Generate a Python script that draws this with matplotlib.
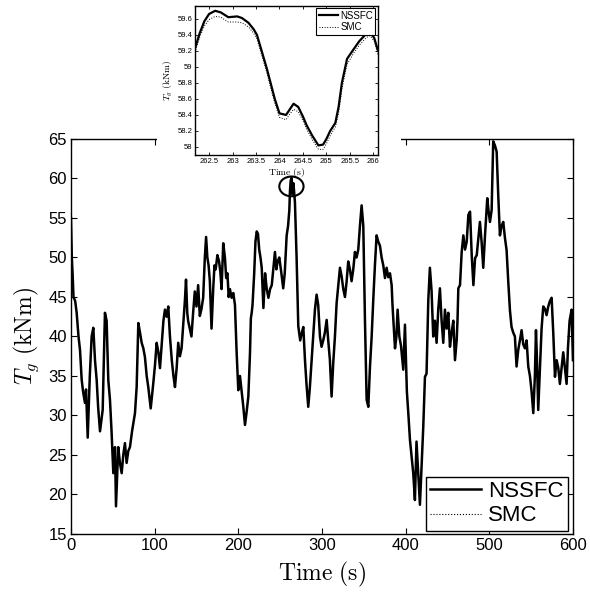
import matplotlib
matplotlib.use("Agg")
import matplotlib.pyplot as plt
from matplotlib.patches import Ellipse, Rectangle
from matplotlib.ticker import FuncFormatter

plt.rcParams["font.family"] = ["Liberation Sans", "DejaVu Sans"]
plt.rcParams["mathtext.fontset"] = "cm"

# generator torque over the full run
time_s = [
    0, 1, 2, 3, 5, 6.8, 9, 10.8, 12.8, 14.5, 16.7, 18, 20, 22.5, 24.7, 26.7,
    28.7, 30.7, 32.5, 34.7, 37.9, 39.5, 40.6, 42.6, 44.6, 46.6, 48.5, 50.6,
    52.6, 53.8, 56.5, 58.5, 60.6, 62.5, 64.5, 66.5, 68.5, 70.5, 73, 76.5,
    78.5, 80.5, 82.5, 84.5, 86.5, 88.4, 90.5, 92.4, 95.3, 98.4, 100.5, 102.4,
    104.5, 106.4, 108.5, 110.5, 112.3, 114.3, 116.3, 118.3, 120.5, 122.5,
    124.3, 126.3, 128.2, 130.2, 132.2, 134.2, 136.2, 137.5, 139, 140, 142,
    144, 146, 148, 150, 152, 154, 156, 158, 160, 161.5, 163, 164.5, 166, 168,
    170, 171.5, 173, 175, 177, 178.5, 180, 182, 184, 185.5, 187, 188.5, 190,
    192, 194, 196, 198, 200, 202, 204, 206, 208, 210, 212, 214, 215, 216,
    217, 219, 220.5, 222, 223.5, 225, 226.5, 228, 230, 232, 234, 236, 238,
    240, 241.8, 243.8, 245.5, 247, 249, 251.5, 253.7, 255.5, 257.8, 259.5,
    261, 261.7, 262.6, 263.7, 264.8, 265.9, 267.7, 269.7, 271.7, 274, 276,
    277.7, 279.7, 281.5, 283.6, 285.5, 287.6, 289.5, 291.6, 293.6, 295.5,
    297.6, 299.5, 301.5, 303.5, 305.6, 307.5, 309.5, 311.5, 313.5, 315.5,
    317.5, 319.5, 321.5, 323.5, 325.5, 327.5, 329.5, 331.4, 333.4, 335.4,
    337.4, 339.4, 341.4, 343.4, 345.4, 347.4, 349.4, 351.4, 353.4, 355.4,
    357.4, 359.4, 361.3, 363.3, 365.3, 367.3, 369.3, 371.3, 373.3, 375.3,
    377.3, 379.3, 381.3, 383.3, 384.3, 385.3, 387.3, 389, 390.4, 392.5,
    394.5, 397.2, 399.2, 401.5, 403.2, 405.2, 407, 409.1, 411.1, 413, 415,
    417.1, 419, 421.1, 423.1, 425, 427.1, 429, 431, 433, 435, 437, 439, 441,
    443, 445, 447, 449, 451, 453, 455, 457, 459, 461, 462, 463, 465, 467,
    469, 471, 473, 475, 477, 479, 481, 483, 485, 487, 488.8, 490.8, 492.8,
    495, 497.6, 499, 500.8, 502.8, 504.7, 506.7, 508.8, 510.7, 512.7, 514.7,
    516.7, 518.7, 520.7, 522.7, 524.7, 526.6, 528.6, 530.6, 532.6, 534.6,
    536.6, 538.6, 540.6, 542.6, 544.6, 546.6, 548.6, 550.6, 552.6, 554.5,
    555.8, 557, 558.5, 560.5, 562.5, 564.5, 566.5, 568.5, 570.5, 572.5,
    574.5, 576.5, 578.5, 580.5, 582.5, 584.4, 586.4, 588.4, 590.4, 592.4,
    594, 596, 598.4, 600,
]
tg_nssfc = [
    55, 50, 47.8, 45, 44.5, 43, 40, 38.3, 34.5, 33, 31.6, 33.3, 27.2, 35, 40,
    41.1, 37, 34.5, 31, 28, 30.7, 38, 43, 42, 34.5, 32, 28, 22.7, 26, 18.5,
    26, 24, 22.7, 25, 26.5, 24, 25.5, 26, 28, 30.3, 33.6, 41.7, 40.5, 39.2,
    38.5, 37.4, 35, 33.6, 30.9, 34.1, 36.5, 39.2, 38, 36, 39, 42, 43.4, 42.5,
    43.8, 40, 37, 35, 33.6, 36, 39.2, 37.5, 38.5, 41.5, 44.6, 47.2, 43, 42,
    41, 40, 43, 45.7, 43.8, 46.5, 42.6, 43.5, 44.9, 50, 52.6, 50, 49, 47, 41,
    46, 49, 48.5, 50.3, 49.5, 48.2, 46, 51.8, 50, 47.4, 48, 45, 46, 44.9,
    45.5, 44, 38, 33.2, 35, 33, 31.1, 28.8, 30.5, 32.4, 38, 42.3, 43, 44, 48,
    52, 53.3, 53, 51, 50, 48.7, 43.6, 48, 46, 44.9, 46, 46.5, 48.5, 50.7,
    48.5, 49.5, 50, 48, 46.1, 48, 52.8, 54, 56, 58.3, 59.7, 60.1, 58.0, 59.4,
    57, 49.9, 41.3, 39.5, 40.5, 41.2, 37, 34, 31.1, 33.5, 37, 40, 43.4, 45.3,
    44, 40, 38.7, 39.5, 40.5, 42.1, 39.5, 37, 32.4, 36.7, 40, 44.2, 46.5,
    48.7, 47.6, 46, 45, 47, 49.5, 48.5, 47, 48.5, 50.7, 50, 51, 54, 56.6, 54,
    42, 32, 31.1, 36.2, 40, 44.6, 49, 52.8, 52, 51.5, 50, 49, 47.4, 48.7,
    47.5, 48, 46.5, 44, 42.1, 38.5, 40, 43.4, 40, 38.8, 35.8, 41.5, 33, 30.3,
    26.9, 25, 22.7, 19.3, 26.7, 22.7, 18.7, 23.5, 28.6, 34.9, 35.3, 44.6,
    48.7, 45.8, 40, 42, 39.2, 43.4, 46.1, 42, 39.2, 43.4, 41, 43, 38.7, 40.5,
    42, 37, 39.5, 42, 46.1, 46.5, 50.7, 52.8, 51, 52, 55.4, 55.8, 50.3, 46.5,
    49.9, 50.3, 52.5, 54.5, 52, 48.7, 53, 57.5, 56, 54.5, 56, 64.7, 64.2,
    63.4, 57.9, 52.8, 54, 54.5, 52.5, 50.9, 46.9, 43.3, 41.2, 40.5, 40, 36.2,
    38.3, 39.5, 40.8, 39, 38.5, 39.5, 36.2, 35, 33, 30.3, 35, 40.8, 37, 30.7,
    36, 41, 43.8, 43.5, 42.7, 43.8, 44.5, 44.9, 40.4, 34.9, 37, 36, 34, 36,
    38, 36, 34, 38.5, 42, 43.4, 37,
]
# at full scale the SMC trace lies under the NSSFC one
tg_smc = tg_nssfc

# zoomed window around the t = 264 s peak
zoom_t = [
    262.2, 262.3, 262.4, 262.5, 262.63, 262.75, 262.91, 263.1, 263.2, 263.34,
    263.45, 263.52, 263.62, 263.73, 263.82, 263.9, 264.0, 264.14, 264.22,
    264.3, 264.4, 264.5, 264.58, 264.7, 264.83, 264.93, 265.0, 265.08,
    265.19, 265.26, 265.33, 265.44, 265.58, 265.7, 265.86, 265.93, 266.02,
    266.1,
]
zoom_nssfc = [
    59.23, 59.42, 59.57, 59.66, 59.70, 59.68, 59.62, 59.63, 59.61, 59.55,
    59.47, 59.40, 59.20, 58.98, 58.78, 58.60, 58.42, 58.40, 58.47, 58.54,
    58.50, 58.38, 58.27, 58.14, 58.02, 58.03, 58.10, 58.20, 58.30, 58.50,
    58.80, 59.10, 59.22, 59.32, 59.42, 59.44, 59.36, 59.20,
]
zoom_smc = [
    59.18, 59.37, 59.51, 59.59, 59.63, 59.62, 59.56, 59.56, 59.55, 59.50,
    59.42, 59.35, 59.15, 58.93, 58.72, 58.55, 58.37, 58.34, 58.41, 58.47,
    58.44, 58.33, 58.22, 58.09, 57.97, 57.97, 58.04, 58.14, 58.25, 58.42,
    58.72, 59.03, 59.17, 59.27, 59.37, 59.39, 59.32, 59.15,
]

fig = plt.figure(figsize=(5.9, 5.93), dpi=100)

ax = fig.add_axes([0.1203, 0.0995, 0.8508, 0.6661])
ax.plot(time_s, tg_nssfc, color="black", linewidth=1.8, label="NSSFC")
ax.plot(time_s, tg_smc, color="black", linewidth=0.8, linestyle=":", label="SMC")
ax.set_xlim(0, 600)
ax.set_ylim(15, 65)
ax.set_xticks(range(0, 601, 100))
ax.set_yticks(range(15, 66, 5))
ax.tick_params(direction="in", length=4, width=0.8, labelsize=12,
               top=True, right=True, pad=3)
for sp in ax.spines.values():
    sp.set_linewidth(1.0)
ax.set_xlabel(r"$\mathrm{Time\ (s)}$", fontsize=17, labelpad=5)
ax.set_ylabel(r"$T_g\ \mathrm{(kNm)}$", fontsize=17, labelpad=5)
ax.add_patch(Ellipse((263.5, 59.0), 29, 2.5, fill=False,
                     edgecolor="black", linewidth=1.5))
leg = ax.legend(loc="lower right", bbox_to_anchor=(0.99, 0.008),
                borderaxespad=0, fontsize=16, fancybox=False,
                edgecolor="black", framealpha=1, handlelength=2.3,
                handletextpad=0.3, labelspacing=0.15, borderpad=0.2)
leg.get_frame().set_linewidth(1.0)

# white backing behind the inset (hides part of the main top spine)
fig.patches.append(Rectangle((0.266, 0.713), 0.414, 0.287,
                             transform=fig.transFigure, facecolor="white",
                             edgecolor="none", zorder=1))

ins = fig.add_axes([0.3305, 0.7386, 0.3102, 0.2513])
ins.set_zorder(2)
ins.plot(zoom_t, zoom_nssfc, color="black", linewidth=1.6, label="NSSFC")
ins.plot(zoom_t, zoom_smc, color="black", linewidth=0.7, linestyle=":",
         label="SMC")
ins.set_xlim(262.2, 266.1)
ins.set_ylim(57.9, 59.76)
ins.set_xticks([262.5, 263, 263.5, 264, 264.5, 265, 265.5, 266])
ins.set_yticks([58, 58.2, 58.4, 58.6, 58.8, 59, 59.2, 59.4, 59.6])
fmt = FuncFormatter(lambda v, _: f"{v:g}")
ins.xaxis.set_major_formatter(fmt)
ins.yaxis.set_major_formatter(fmt)
ins.tick_params(direction="in", length=2, width=0.6, labelsize=5.5,
                top=True, right=True, pad=2)
for sp in ins.spines.values():
    sp.set_linewidth(1.0)
ins.set_xlabel(r"$\mathrm{Time\ (s)}$", fontsize=7, labelpad=1)
ins.set_ylabel(r"$T_g\ \mathrm{(kNm)}$", fontsize=7, labelpad=2)
ileg = ins.legend(loc="upper right", bbox_to_anchor=(0.985, 0.985),
                  borderaxespad=0, fontsize=7, fancybox=False,
                  edgecolor="black", framealpha=1, handlelength=2.0,
                  handletextpad=0.2, labelspacing=0.15, borderpad=0.25)
ileg.get_frame().set_linewidth(0.8)

fig.savefig("out.png", dpi=100)
